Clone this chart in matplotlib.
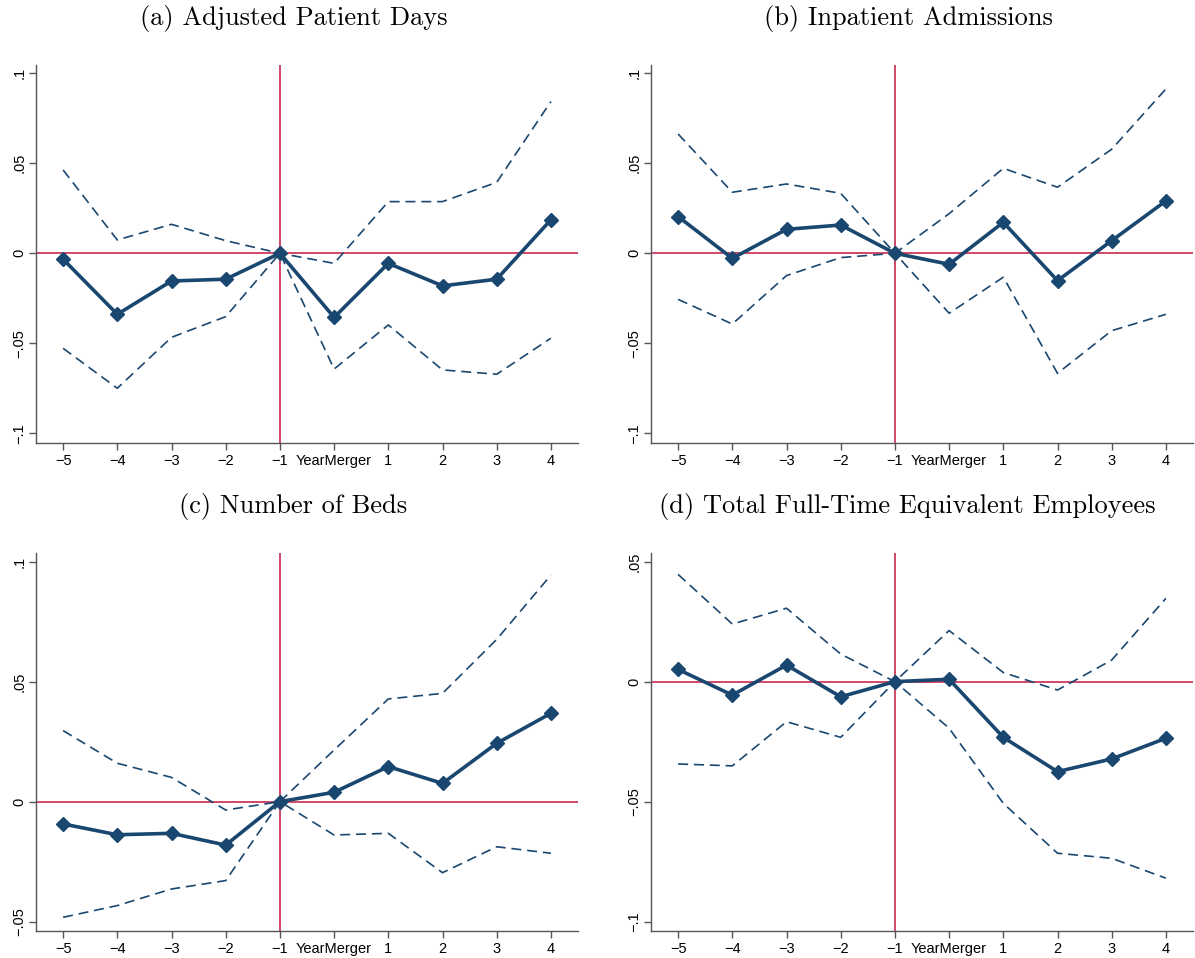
import matplotlib.pyplot as plt
import numpy as np

# event time relative to the merger year (0 = YearMerger)
years = [-5, -4, -3, -2, -1, 0, 1, 2, 3, 4]
xlabels = ["\u22125", "\u22124", "\u22123", "\u22122", "\u22121", "YearMerger", "1", "2", "3", "4"]

# (a) adjusted patient days
days_coef = [-0.0033, -0.0339, -0.0154, -0.0144, 0.0, -0.0356, -0.0056, -0.0181, -0.0144, 0.0186]
days_hi = [0.0463, 0.0074, 0.0161, 0.0070, 0.0, -0.0056, 0.0287, 0.0287, 0.0394, 0.0843]
days_lo = [-0.0528, -0.0750, -0.0467, -0.0352, 0.0, -0.0643, -0.0398, -0.0648, -0.0672, -0.0472]

# (b) inpatient admissions
adm_coef = [0.0204, -0.0028, 0.0133, 0.0157, 0.0, -0.0061, 0.0172, -0.0152, 0.0070, 0.0291]
adm_hi = [0.0663, 0.0339, 0.0385, 0.0333, 0.0, 0.0220, 0.0472, 0.0367, 0.0578, 0.0913]
adm_lo = [-0.0256, -0.0393, -0.0124, -0.0024, 0.0, -0.0333, -0.0133, -0.0667, -0.0430, -0.0339]

# (c) number of beds
beds_coef = [-0.0093, -0.0138, -0.0132, -0.0181, 0.0, 0.0039, 0.0146, 0.0076, 0.0243, 0.0368]
beds_hi = [0.0296, 0.0160, 0.0101, -0.0035, 0.0, 0.0215, 0.0428, 0.0451, 0.0676, 0.0944]
beds_lo = [-0.0482, -0.0433, -0.0364, -0.0329, 0.0, -0.0139, -0.0132, -0.0296, -0.0188, -0.0215]

# (d) total FTE employees
fte_coef = [0.0051, -0.0056, 0.0069, -0.0063, 0.0, 0.0010, -0.0232, -0.0375, -0.0322, -0.0236]
fte_hi = [0.0447, 0.0240, 0.0306, 0.0115, 0.0, 0.0213, 0.0038, -0.0035, 0.0090, 0.0347]
fte_lo = [-0.0343, -0.0351, -0.0167, -0.0232, 0.0, -0.0194, -0.0507, -0.0715, -0.0736, -0.0819]

navy = "#1a476f"
red = "#c8163f"

W, H = 1195, 958
fig = plt.figure(figsize=(W / 100, H / 100), dpi=100)

panels = [
    # title, title centre (px), axes box (left, top, right, bottom px), ylim, yticks, ticklabels, data
    ("(a) Adjusted Patient Days", (294, 19), (36, 65, 578, 443), (-0.1054, 0.1046),
     [-0.1, -0.05, 0, 0.05, 0.1], ["\u2212.1", "\u2212.05", "0", ".05", ".1"],
     (days_coef, days_hi, days_lo)),
    ("(b) Inpatient Admissions", (908, 19), (651, 65, 1193, 443), (-0.1054, 0.1046),
     [-0.1, -0.05, 0, 0.05, 0.1], ["\u2212.1", "\u2212.05", "0", ".05", ".1"],
     (adm_coef, adm_hi, adm_lo)),
    ("(c) Number of Beds", (293, 506), (36, 553, 578, 931), (-0.0539, 0.1036),
     [-0.05, 0, 0.05, 0.1], ["\u2212.05", "0", ".05", ".1"],
     (beds_coef, beds_hi, beds_lo)),
    ("(d) Total Full-Time Equivalent Employees", (907, 507), (651, 553, 1193, 931), (-0.1039, 0.0536),
     [-0.1, -0.05, 0, 0.05], ["\u2212.1", "\u2212.05", "0", ".05"],
     (fte_coef, fte_hi, fte_lo)),
]

for title, (tx, ty), (l, t, r, b), ylim, yt, ytl, (coef, hi, lo) in panels:
    ax = fig.add_axes([l / W, 1 - b / H, (r - l) / W, (b - t) / H])
    ax.axhline(0, color=red, lw=1.1, zorder=1)
    ax.axvline(-1, color=red, lw=1.1, zorder=1)
    ax.plot(years, hi, color=navy, lw=1.2, ls=(0, (6, 3.5)), zorder=2)
    ax.plot(years, lo, color=navy, lw=1.2, ls=(0, (6, 3.5)), zorder=2)
    ax.plot(years, coef, color=navy, lw=2.6, marker="D", ms=7.5, zorder=3)

    ax.set_xlim(-5.5, 4.5)
    ax.set_ylim(*ylim)
    ax.set_xticks(years)
    ax.set_xticklabels(xlabels, fontsize=10.5, fontfamily="Liberation Sans")
    ax.set_yticks(yt)
    ax.set_yticklabels(ytl, fontsize=10.5, fontfamily="Liberation Sans",
                       rotation=90, va="center")
    for s in ["top", "right"]:
        ax.spines[s].set_visible(False)
    for s in ["left", "bottom"]:
        ax.spines[s].set_color("#555555")
        ax.spines[s].set_linewidth(1.0)
    ax.tick_params(direction="out", length=5, width=1.0, color="#555555", pad=3)
    ax.tick_params(axis="y", pad=2)

    fig.text(tx / W, 1 - ty / H, title, ha="center", va="center",
             fontsize=19, fontfamily="cmr10")

fig.savefig("out.png", dpi=100)
